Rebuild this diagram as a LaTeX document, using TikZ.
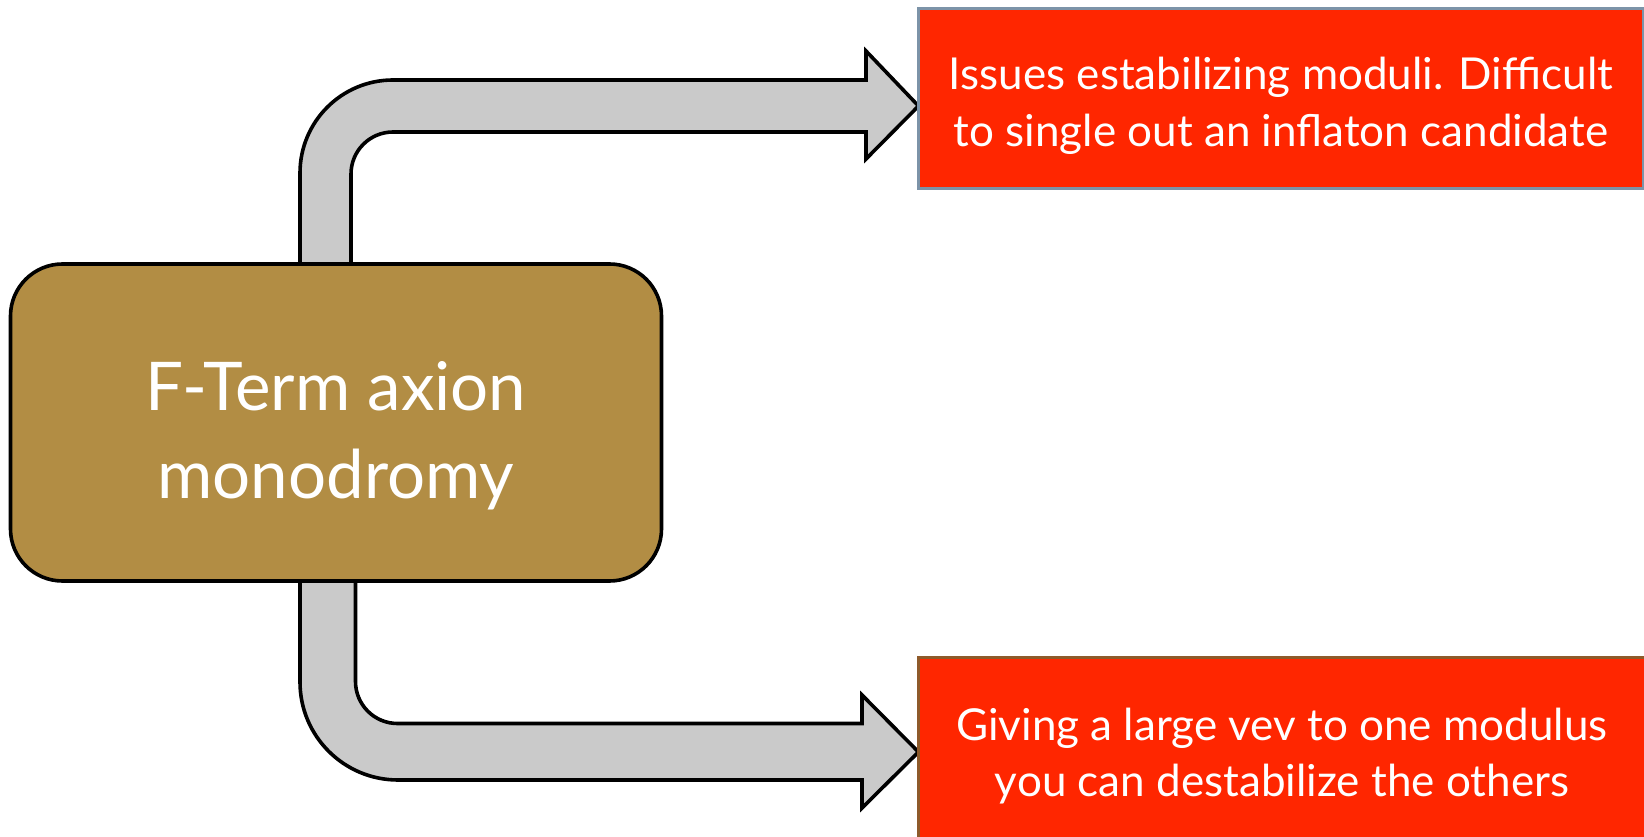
\documentclass[tikz,border=0pt]{standalone}
\usepackage{fontspec}
\setmainfont{Lato}
\usetikzlibrary{calc,backgrounds}
\definecolor{boxbrown}{HTML}{B28D44}
\definecolor{boxred}{HTML}{FF2600}
\definecolor{arrowgray}{HTML}{CACACA}
\definecolor{topedge}{HTML}{7C93A8}
\definecolor{botedge}{HTML}{8E5A2A}
\begin{document}
\begin{tikzpicture}[x=0.5pt,y=0.5pt,
  mainbox/.style={draw=black, line width=1.8pt, fill=boxbrown, rounded corners=26pt,
    minimum width=325.5pt, minimum height=158.5pt, inner sep=0pt, outer sep=0pt},
  redbox/.style={fill=boxred, line width=1.5pt, inner sep=0pt, outer sep=0pt},
  maintext/.style={text=white, font=\fontsize{33.6}{44}\selectfont, align=center, inner sep=0pt},
  redtext/.style={text=white, font=\fontsize{22}{28.25}\selectfont, align=center, inner sep=0pt},
  blockarrow/.style={draw=black, line width=1.8pt, fill=arrowgray, line join=miter}
]
\useasboundingbox (0,0) rectangle (1644,836);

\node[mainbox] (main) at (336,413.5) {};
\node[redbox, draw=topedge, minimum width=362.5pt, minimum height=90pt] (top) at (1281,737.5) {};
\node[redbox, draw=botedge, minimum width=363.5pt, minimum height=96.25pt] (bot) at (1282,82.75) {};

\node[maintext] (mainlabel) at (336,400) {F-Term axion\\monodromy};
\node[redtext] (toplabel) at (1281,730) {Issues estabilizing moduli. Difficult\\to single out an inflaton candidate};
\node[redtext] (botlabel) at (1282,80) {Giving a large vev to one modulus\\you can destabilize the others};

\coordinate (ttip) at ($(top.west)+(0,-7.5)$);
\coordinate (btip) at ($(bot.west)+(0,1.25)$);

\begin{scope}[on background layer]
\draw[blockarrow] (300,572) -- (300,663) arc[start angle=180,end angle=90,radius=46.5pt]
  -- (866,756) -- (866,785) -- (ttip) -- (866,677) -- (866,704) -- (393,704)
  arc[start angle=90,end angle=180,radius=21pt] -- (351,572) -- cycle;
\draw[blockarrow] (300,255) -- (300,154) arc[start angle=180,end angle=270,radius=49pt]
  -- (862,56) -- (862,28) -- (btip) -- (862,141) -- (862,112.5) -- (397.5,112.5)
  arc[start angle=270,end angle=180,radius=21pt] -- (355.5,255) -- cycle;
\end{scope}
\end{tikzpicture}
\end{document}
